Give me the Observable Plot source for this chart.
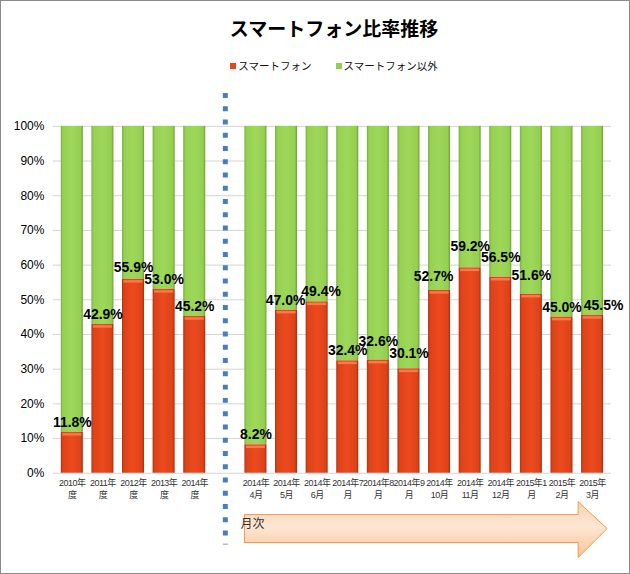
<!DOCTYPE html>
<html><head><meta charset="utf-8">
<script src="https://cdn.jsdelivr.net/npm/d3@7"></script>
<script src="https://cdn.jsdelivr.net/npm/@observablehq/plot@0.6"></script>
<style>
html,body{margin:0;padding:0;background:#fff;}
#wrap{position:relative;width:630px;height:574px;box-sizing:border-box;border:1px solid #8a8a8a;overflow:hidden;font-family:"Liberation Sans","Noto Sans CJK JP",sans-serif;}
#title{position:absolute;left:36px;top:13px;width:594px;text-align:center;font-family:"Noto Sans CJK JP",sans-serif;font-weight:bold;font-size:19px;color:#000;line-height:28px;}
#legend{position:absolute;left:36px;top:57px;width:594px;text-align:center;font-family:"Noto Sans CJK JP",sans-serif;font-size:10.5px;color:#111;line-height:16px;}
#legend span.sw{display:inline-block;width:6px;height:6px;margin-right:2px;vertical-align:middle;position:relative;top:-1px;}
#legend span.item{margin:0 12px;}
#chart{position:absolute;left:0;top:80px;}
#chart g[aria-label="x-axis tick label"] text{letter-spacing:-0.5px;}
</style></head>
<body>
<div id="wrap">
  <div id="title"></div>
  <div id="legend"></div>
  <div id="chart"></div>
</div>
<script>
const titleText = "スマートフォン比率推移";
const seriesNames = ["スマートフォン", "スマートフォン以外"];
const seriesColors = ["#e8441a", "#92d050"];
const categories = ["2010年\n度","2011年\n度","2012年\n度","2013年\n度","2014年\n度"," ","2014年\n4月","2014年\n5月","2014年\n6月","2014年7\n月","2014年8\n月","2014年9\n月","2014年\n10月","2014年\n11月","2014年\n12月","2015年1\n月","2015年\n2月","2015年\n3月"];
const smartphoneShare = [0.118,0.429,0.559,0.530,0.452,null,0.082,0.470,0.494,0.324,0.326,0.301,0.527,0.592,0.565,0.516,0.450,0.455];
const yTicks = [0,0.1,0.2,0.3,0.4,0.5,0.6,0.7,0.8,0.9,1.0];
const gapCategory = " ";
const arrowLabel = "月次";

// hand-placed label nudges, as in the reference (annotation layout only)
const labelNudge = {
  "2014年8\n月": {dy: -19}, "2014年9\n月": {dy: -15}, "2014年\n10月": {dy: -14, dx: -6},
  "2014年\n11月": {dy: -21}, "2014年\n12月": {dy: -20}, "2015年1\n月": {dy: -19},
  "2015年\n3月": {dx: 11}, "2012年\n度": {dy: -12}, "2014年\n6月": {dx: 4}, "2014年\n5月": {dx: -1}
};

document.getElementById("title").textContent = titleText;
document.getElementById("legend").innerHTML = seriesNames.map((n,i) =>
  `<span class="item"><span class="sw" style="background:${seriesColors[i]}"></span>${n}</span>`).join("");

const rows = categories.map((c,i) => ({cat:c, v:smartphoneShare[i]})).filter(d => d.v != null);

const chart = Plot.plot({
  width: 630, height: 490,
  marginTop: 45, marginBottom: 97, marginLeft: 52, marginRight: 18,
  style: {fontFamily: "'Liberation Sans','Noto Sans CJK JP',sans-serif", background: "transparent"},
  x: {domain: categories, paddingInner: 0.28, paddingOuter: 0.26, round: false, label: null},
  y: {domain: [0,1], label: null},
  marks: [
    Plot.gridY(yTicks, {stroke: "#d4d4d4", strokeOpacity: 1}),
    Plot.axisY(yTicks, {tickSize: 0, tickPadding: 9, tickFormat: d3.format(".0%"), fontSize: 12, fill: "#000"}),
    Plot.axisX({tickSize: 0, tickPadding: 5, fontSize: 9, fill: "#333", lineHeight: 1.3}),
    Plot.barY(rows, {x: "cat", y1: d => d.v, y2: 1, fill: "url(#gGreen)"}),
    Plot.barY(rows, {x: "cat", y1: 0, y2: "v", fill: "url(#gRed)"}),
    Plot.tickY(rows, {x: "cat", y: "v", stroke: "#f57a4c", strokeWidth: 2.5, dy: 2, insetLeft: 1.5, insetRight: 1.5}),
    Plot.ruleX([gapCategory], {stroke: "#4a7ebb", strokeWidth: 5, strokeDasharray: "5,8.3", insetTop: -33, insetBottom: -72}),
    Plot.text(rows, {x: "cat", y: "v", text: d => d3.format(".1f")(d.v*100) + "%", dy: -10, fontSize: 14, fontWeight: "bold", fill: "#000"})
  ]
});

// apply label nudges
chart.querySelectorAll('g[aria-label="text"] text').forEach((t, i) => {
  const n = labelNudge[rows[i].cat];
  if (!n) return;
  const cur = t.getAttribute("transform") || "";
  t.setAttribute("transform", cur + ` translate(${n.dx || 0},${(n.dy != null ? n.dy + 10 : 0)})`);
});

const NS = "http://www.w3.org/2000/svg";
const defs = document.createElementNS(NS, "defs");
defs.innerHTML = `
<linearGradient id="gRed" x1="0" x2="1" y1="0" y2="0">
  <stop offset="0" stop-color="#b5330f"/>
  <stop offset="0.1" stop-color="#de4219"/>
  <stop offset="0.5" stop-color="#ec4a1e"/>
  <stop offset="0.9" stop-color="#de4219"/>
  <stop offset="1" stop-color="#a52e0d"/>
</linearGradient>
<linearGradient id="gGreen" x1="0" x2="1" y1="0" y2="0">
  <stop offset="0" stop-color="#7aae3d"/>
  <stop offset="0.1" stop-color="#97d152"/>
  <stop offset="0.5" stop-color="#9dd85a"/>
  <stop offset="0.9" stop-color="#95cf50"/>
  <stop offset="1" stop-color="#6f9f37"/>
</linearGradient>
<linearGradient id="gArrow" x1="0" x2="0" y1="0" y2="1">
  <stop offset="0" stop-color="#fbd3b2"/>
  <stop offset="0.45" stop-color="#fde6d3"/>
  <stop offset="1" stop-color="#fbc296"/>
</linearGradient>`;
chart.insertBefore(defs, chart.firstChild);

// month arrow, positioned from the chart's own x and y scales
const xs = chart.scale("x"), ys = chart.scale("y");
const xLeft = xs.apply(categories[6]);
const xRight = xs.apply(categories[categories.length-1]) + xs.bandwidth + 4;
const base = ys.apply(0);
const bTop = base + 42, bBot = base + 70, hTop = base + 29, hBot = base + 85, mid = (bTop + bBot)/2;
const hx = xRight - 29;
const g = document.createElementNS(NS, "g");
g.innerHTML = `<path d="M${xLeft},${bTop}H${hx}V${hTop}L${xRight},${mid}L${hx},${hBot}V${bBot}H${xLeft}Z" fill="url(#gArrow)" stroke="#f79646" stroke-width="1"/>
<text x="${xLeft+8}" y="${mid-4}" font-family="Noto Sans CJK JP" font-size="12" fill="#333" dominant-baseline="middle">${arrowLabel}</text>`;
chart.appendChild(g);

document.getElementById("chart").appendChild(chart);
</script>
</body></html>
